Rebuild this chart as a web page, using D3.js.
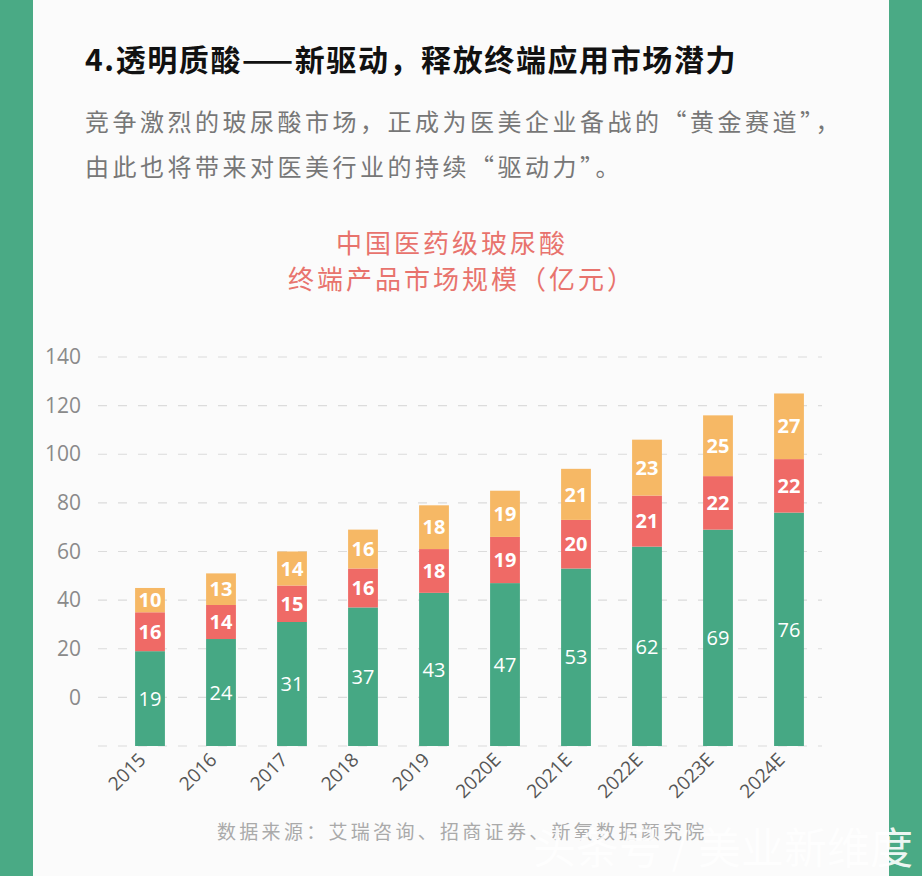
<!DOCTYPE html>
<html><head><meta charset="utf-8">
<script src="https://cdn.jsdelivr.net/npm/d3@7"></script>
<style>
html,body{margin:0;padding:0;background:#fbfbfb;}
svg{display:block;font-family:"Noto Sans CJK SC","Noto Sans",sans-serif;}
</style></head>
<body>
<svg id="c" width="922" height="876"></svg>
<script>
const categories = ["2015","2016","2017","2018","2019","2020E","2021E","2022E","2023E","2024E"];
const seriesNames = ["s1","s2","s3"];
const greenValues = [19,24,31,37,43,47,53,62,69,76];
const redValues = [16,14,15,16,18,19,20,21,22,22];
const yellowValues = [10,13,14,16,18,19,21,23,25,27];
const yTicks = [-20,0,20,40,60,80,100,120,140];
const yTickLabels = ["","0","20","40","60","80","100","120","140"];
const colors = ["#46a884","#ef6a66","#f6b865"];

const svg = d3.select("#c");
// side borders
svg.append("rect").attr("x",0).attr("y",0).attr("width",33).attr("height",876).attr("fill","#4aaa85");
svg.append("rect").attr("x",889).attr("y",0).attr("width",33).attr("height",876).attr("fill","#4aaa85");

// headings
svg.append("text").attr("x",85).attr("y",71).attr("font-size",30).attr("font-weight","bold")
  .attr("letter-spacing",1.6).attr("fill","#111").text("4.透明质酸——新驱动，释放终端应用市场潜力");
svg.append("text").attr("x",85).attr("y",131).attr("font-size",24).attr("letter-spacing",3.5)
  .attr("fill","#777").text("竞争激烈的玻尿酸市场，正成为医美企业备战的“黄金赛道”，");
svg.append("text").attr("x",85).attr("y",176).attr("font-size",24).attr("letter-spacing",3.5)
  .attr("fill","#777").text("由此也将带来对医美行业的持续“驱动力”。");
svg.append("text").attr("x",452).attr("y",253).attr("text-anchor","middle").attr("font-size",26)
  .attr("letter-spacing",3).attr("fill","#e8736d").text("中国医药级玻尿酸");
svg.append("text").attr("x",462).attr("y",289).attr("text-anchor","middle").attr("font-size",26)
  .attr("letter-spacing",3).attr("fill","#e8736d").text("终端产品市场规模（亿元）");

const y = d3.scaleLinear().domain([-20,140]).range([746,357]);
const x = d3.scaleBand().domain(categories).range([114.5,824.5]).paddingInner(0.58).paddingOuter(0.29);

// gridlines
svg.append("g").selectAll("line").data(yTicks).join("line")
  .attr("x1",98).attr("x2",822).attr("y1",d=>y(d)).attr("y2",d=>y(d))
  .attr("stroke","#dcdcdc").attr("stroke-width",1.2).attr("stroke-dasharray","9,11");

// y labels
const yAxis = d3.axisLeft(y).tickValues(yTicks).tickSize(0).tickFormat((d,i)=>yTickLabels[i]);
const ga = svg.append("g").attr("transform","translate(86,0)").call(yAxis);
ga.select(".domain").remove();
ga.selectAll("text").attr("font-size",21).attr("fill","#8a8a8a").attr("font-family","'Open Sans','Noto Sans',sans-serif").attr("dx",-2);

// stacked data
const rows = categories.map((c,i)=>({cat:c, s1:greenValues[i], s2:redValues[i], s3:yellowValues[i]}));
const stacked = d3.stack().keys(seriesNames)(rows);
const base = y.domain()[0];
const g = svg.append("g");
stacked.forEach((s,si)=>{
  g.append("g").selectAll("rect").data(s).join("rect")
    .attr("x",d=>x(d.data.cat)).attr("width",x.bandwidth())
    .attr("y",d=>y(d[1]))
    .attr("height",d=>y(si===0?base:d[0]) - y(d[1]))
    .attr("fill",colors[si]);
  g.append("g").selectAll("text").data(s).join("text")
    .attr("x",d=>x(d.data.cat)+x.bandwidth()/2)
    .attr("y",d=>((si===0?y(base):y(d[0])) + y(d[1]))/2)
    .attr("dy","0.36em").attr("text-anchor","middle")
    .attr("font-size",20).attr("fill","#fff").attr("font-weight",si===0?"normal":"bold")
    .attr("font-family","'Open Sans','Noto Sans',sans-serif")
    .text(d=>d.data[seriesNames[si]]);
});

// x labels
svg.append("g").selectAll("text").data(categories).join("text")
  .attr("transform",d=>`translate(${x(d)+x.bandwidth()/2-3},${761}) rotate(-45)`)
  .attr("text-anchor","end").attr("font-size",19).attr("fill","#555")
  .attr("font-family","'Open Sans','Noto Sans',sans-serif").text(d=>d);

// source
svg.append("text").attr("x",217).attr("y",839).attr("font-size",19).attr("letter-spacing",3.3)
  .attr("fill","#aaa").text("数据来源：艾瑞咨询、招商证券、新氧数据颜究院");

// watermark
svg.append("text").attr("x",913).attr("y",864).attr("text-anchor","end").attr("font-size",43)
  .attr("fill","#ffffff").attr("opacity",0.9).text("头条号 / 美业新维度");
</script>
</body></html>
